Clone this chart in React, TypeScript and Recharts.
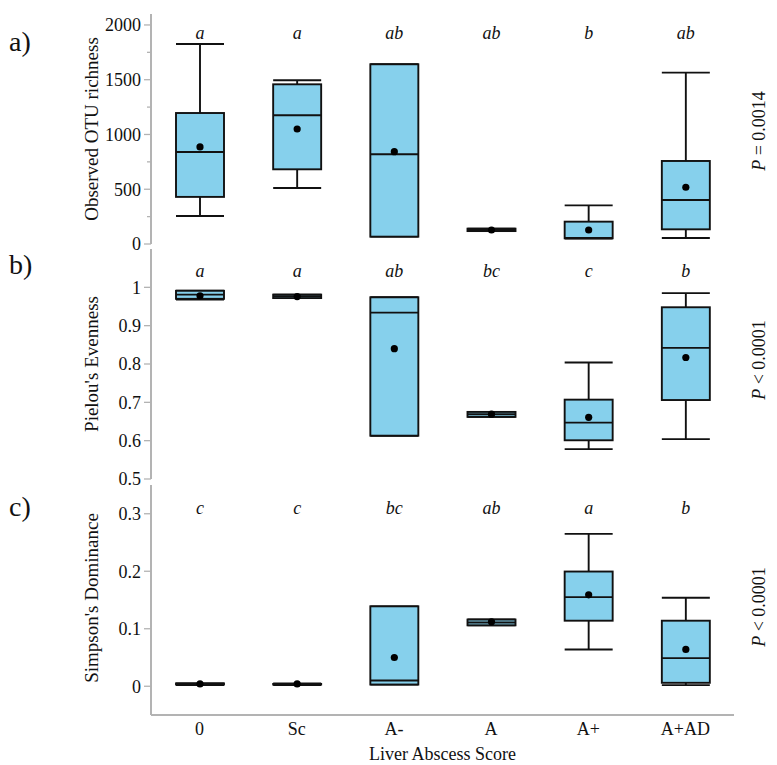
import React from "react";
import { ComposedChart, Bar, XAxis, YAxis } from "recharts";

const CATEGORIES = ["0", "Sc", "A-", "A", "A+", "A+AD"];

// a) Observed OTU richness
const OTU_MIN = [256, 511, 67, 118, 50, 55];
const OTU_Q1 = [430, 682, 67, 118, 52, 134];
const OTU_MED = [840, 1175, 819, 128, 55, 402];
const OTU_Q3 = [1196, 1458, 1641, 140, 204, 758];
const OTU_MAX = [1826, 1495, 1641, 140, 353, 1565];
const OTU_MEAN = [886, 1050, 843, 128, 128, 518];
const OTU_LETTERS = ["a", "a", "ab", "ab", "b", "ab"];

// b) Pielou's evenness
const EVEN_MIN = [0.968, 0.972, 0.613, 0.662, 0.578, 0.604];
const EVEN_Q1 = [0.97, 0.972, 0.613, 0.662, 0.601, 0.706];
const EVEN_MED = [0.981, 0.977, 0.934, 0.669, 0.647, 0.842];
const EVEN_Q3 = [0.991, 0.981, 0.974, 0.675, 0.707, 0.948];
const EVEN_MAX = [0.991, 0.981, 0.974, 0.675, 0.804, 0.985];
const EVEN_MEAN = [0.978, 0.976, 0.84, 0.669, 0.661, 0.817];
const EVEN_LETTERS = ["a", "a", "ab", "bc", "c", "b"];

// c) Simpson's dominance
const DOM_MIN = [0.002, 0.002, 0.003, 0.106, 0.064, 0.002];
const DOM_Q1 = [0.003, 0.003, 0.003, 0.106, 0.114, 0.006];
const DOM_MED = [0.004, 0.004, 0.01, 0.111, 0.155, 0.049];
const DOM_Q3 = [0.005, 0.004, 0.139, 0.116, 0.1995, 0.114];
const DOM_MAX = [0.005, 0.005, 0.139, 0.116, 0.265, 0.154];
const DOM_MEAN = [0.004, 0.004, 0.05, 0.112, 0.159, 0.064];
const DOM_LETTERS = ["c", "c", "bc", "ab", "a", "b"];

const OTU_TICKS = [0, 500, 1000, 1500, 2000];
const OTU_MINOR = [250, 750, 1250, 1750];
const EVEN_TICKS = [0.5, 0.6, 0.7, 0.8, 0.9, 1];
const DOM_TICKS = [0, 0.1, 0.2, 0.3];

const FILL = "#86d0ec";
const INK = "#111";
const FRAME = "#b3b3b3";
const SERIF = '"Liberation Serif", "Times New Roman", serif';

function buildRows(min, q1, med, q3, max, mean, letters) {
  return CATEGORIES.map((cat, i) => ({
    cat,
    min: min[i],
    q1: q1[i],
    med: med[i],
    q3: q3[i],
    max: max[i],
    mean: mean[i],
    letter: letters[i],
  }));
}

const otuRows = buildRows(OTU_MIN, OTU_Q1, OTU_MED, OTU_Q3, OTU_MAX, OTU_MEAN, OTU_LETTERS);
const evenRows = buildRows(EVEN_MIN, EVEN_Q1, EVEN_MED, EVEN_Q3, EVEN_MAX, EVEN_MEAN, EVEN_LETTERS);
const domRows = buildRows(DOM_MIN, DOM_Q1, DOM_MED, DOM_Q3, DOM_MAX, DOM_MEAN, DOM_LETTERS);

function BoxShape(props: any) {
  const { x, y, width, height, payload, lo, hi, letterDy } = props;
  if (x == null || height == null || !payload) return null;
  // bar spans the whole domain, so map values through its pixel extent
  const toPx = (v: number) => y + (height * (hi - v)) / (hi - lo);
  const cx = x + width / 2;
  const yMin = toPx(payload.min);
  const yQ1 = toPx(payload.q1);
  const yMed = toPx(payload.med);
  const yQ3 = toPx(payload.q3);
  const yMax = toPx(payload.max);
  const yMean = toPx(payload.mean);
  const sw = 1.9;
  return (
    <g>
      <line x1={cx} x2={cx} y1={yMax} y2={yQ3} stroke={INK} strokeWidth={sw} />
      <line x1={cx} x2={cx} y1={yQ1} y2={yMin} stroke={INK} strokeWidth={sw} />
      <line x1={x} x2={x + width} y1={yMax} y2={yMax} stroke={INK} strokeWidth={sw} />
      <line x1={x} x2={x + width} y1={yMin} y2={yMin} stroke={INK} strokeWidth={sw} />
      <rect x={x} y={yQ3} width={width} height={Math.max(yQ1 - yQ3, 0)} fill={FILL} stroke={INK} strokeWidth={sw} />
      <line x1={x} x2={x + width} y1={yMed} y2={yMed} stroke={INK} strokeWidth={sw} />
      <circle cx={cx} cy={yMean} r={3.6} fill="#000" />
      <text x={cx} y={y + letterDy} textAnchor="middle" fontStyle="italic" fontSize={18} fontFamily={SERIF} fill={INK}>
        {payload.letter}
      </text>
    </g>
  );
}

function AxisTick(props: any) {
  const { x, y, payload, minor } = props;
  const axisX = x + 10;
  const isMinor = minor.includes(payload.value);
  return (
    <g>
      <line x1={axisX - (isMinor ? 4 : 7)} x2={axisX} y1={y} y2={y} stroke={FRAME} strokeWidth={1.3} />
      {!isMinor && (
        <text x={x} y={y} dy="0.35em" textAnchor="end" fontSize={18} fontFamily={SERIF} fill={INK}>
          {String(payload.value)}
        </text>
      )}
    </g>
  );
}

function Panel({ top, height, margin, rows, lo, hi, ticks, minor = [], showCats = false, letterDy, tag, tagY, yLabel, yLabelY, pText, pY }: any) {
  const frameLine = { stroke: FRAME, strokeWidth: 2 };
  const allTicks = [...ticks, ...minor].sort((a, b) => a - b);
  return (
    <div style={{ position: "absolute", left: 0, top }}>
      <ComposedChart width={777} height={height} data={rows} margin={margin}>
        <XAxis
          dataKey="cat"
          type="category"
          height={showCats ? 30 : 0}
          axisLine={frameLine}
          tickLine={false}
          tickSize={0}
          tickMargin={7}
          interval={0}
          tick={showCats ? { fontSize: 18, fontFamily: SERIF, fill: INK } : false}
        />
        <XAxis xAxisId="top" dataKey="cat" orientation="top" height={0} axisLine={frameLine} tick={false} tickLine={false} />
        <YAxis
          type="number"
          domain={[lo, hi]}
          ticks={allTicks}
          interval={0}
          allowDataOverflow
          width={60}
          axisLine={frameLine}
          tickLine={false}
          tickSize={6}
          tickMargin={4}
          tick={<AxisTick minor={minor} />}
        />
        <YAxis yAxisId="right" orientation="right" width={0} axisLine={frameLine} tick={false} tickLine={false} />
        <Bar
          dataKey={() => [lo, hi]}
          barSize={48}
          isAnimationActive={false}
          shape={(p: any) => <BoxShape {...p} lo={lo} hi={hi} letterDy={letterDy} />}
        />
        <text x={9} y={tagY} fontSize={28} fontFamily={SERIF} fill={INK}>
          {tag}
        </text>
        <text
          transform={`translate(91,${yLabelY}) rotate(-90)`}
          textAnchor="middle"
          dy="0.35em"
          fontSize={19}
          fontFamily={SERIF}
          fill={INK}
        >
          {yLabel}
        </text>
        <text
          transform={`translate(759,${pY}) rotate(-90)`}
          textAnchor="middle"
          dy="0.35em"
          fontSize={18}
          fontFamily={SERIF}
          fill={INK}
        >
          <tspan fontStyle="italic">P</tspan>
          {pText}
        </text>
        {showCats && (
          <text x={442.5} y={279} textAnchor="middle" dy="0.35em" fontSize={18} fontFamily={SERIF} fill={INK}>
            Liver Abscess Score
          </text>
        )}
      </ComposedChart>
    </div>
  );
}

export default function App() {
  return (
    <div style={{ position: "absolute", left: 0, top: 0, width: 777, height: 765, background: "#fff", fontFamily: SERIF }}>
      <Panel
        top={0}
        height={258}
        margin={{ top: 14, right: 43, bottom: 14, left: 91 }}
        rows={otuRows}
        lo={0}
        hi={2100}
        ticks={OTU_TICKS}
        minor={OTU_MINOR}
        letterDy={25}
        tag="a)"
        tagY={51}
        yLabel="Observed OTU richness"
        yLabelY={129}
        pText=" = 0.0014"
        pY={131}
      />
      <Panel
        top={240}
        height={253}
        margin={{ top: 9, right: 43, bottom: 14, left: 91 }}
        rows={evenRows}
        lo={0.5}
        hi={1.1}
        ticks={EVEN_TICKS}
        letterDy={28}
        tag="b)"
        tagY={34}
        yLabel="Pielou's Evenness"
        yLabelY={124}
        pText=" < 0.0001"
        pY={120}
      />
      <Panel
        top={475}
        height={290}
        margin={{ top: 10, right: 43, bottom: 20, left: 91 }}
        rows={domRows}
        lo={-0.05}
        hi={0.35}
        ticks={DOM_TICKS}
        showCats
        letterDy={29}
        tag="c)"
        tagY={41}
        yLabel="Simpson's Dominance"
        yLabelY={123}
        pText=" < 0.0001"
        pY={132}
      />
    </div>
  );
}
